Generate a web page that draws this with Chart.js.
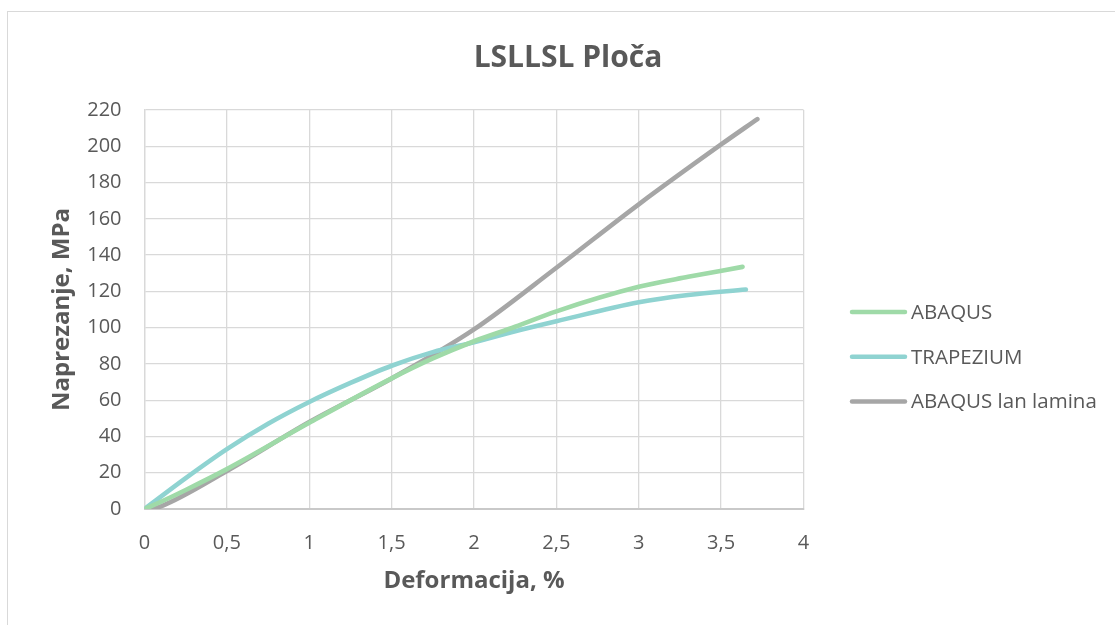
<!DOCTYPE html>
<html>
<head>
<meta charset="utf-8">
<script src="https://cdn.jsdelivr.net/npm/chart.js@4/dist/chart.umd.min.js"></script>
<style>
  html, body { margin: 0; padding: 0; background: #fff; }
  #wrap { position: relative; width: 1115px; height: 625px; overflow: hidden; }
  #frame { position: absolute; left: 7px; top: 11px; width: 1200px; height: 700px; border: 1px solid #d9d9d9; box-sizing: border-box; }
  canvas { position: absolute; left: 0; top: 0; }
</style>
</head>
<body>
<div id="wrap">
  <div id="frame"></div>
  <canvas id="chart" width="1115" height="625"></canvas>
</div>
<script>
// deformacija (%) i naprezanje (MPa) za svaku krivulju
const abaqusX = [0, 0.1, 0.25, 0.5, 1, 1.5, 1.75, 2, 2.25, 2.5, 3, 3.3, 3.63];
const abaqusY = [0, 4, 10.5, 22, 47.5, 72, 83, 92.5, 100.5, 109, 122.5, 128, 133.5];

const trapezX = [0, 0.25, 0.5, 0.75, 1, 1.25, 1.5, 1.75, 2, 2.25, 2.5, 3, 3.3, 3.65];
const trapezY = [0, 17, 33, 47, 59, 69.5, 79, 86.5, 92, 98, 103.5, 114, 118, 121];

const laminaX = [0, 0.05, 0.1, 0.5, 1, 1.5, 2, 2.5, 3, 3.5, 3.72];
const laminaY = [0, 0.3, 1.5, 21, 48, 72, 99, 133, 168, 201, 215];

const seriesNames = ['ABAQUS', 'TRAPEZIUM', 'ABAQUS lan lamina'];
const seriesColors = ['#9fdaa8', '#8fd3d1', '#a6a6a6'];

const xTicks = [0, 0.5, 1, 1.5, 2, 2.5, 3, 3.5, 4];
const yTicks = [0, 20, 40, 60, 80, 100, 120, 140, 160, 180, 200, 220];

const chartTitle = 'LSLLSL Ploča';

const FONT = "'Open Sans', 'DejaVu Sans', sans-serif";
const TEXT = '#595959';

function toPoints(xs, ys) {
  return xs.map((x, i) => ({ x: x, y: ys[i] }));
}

function commaNum(v) {
  return String(v).replace('.', ',');
}

// naslov centriran na cijeloj površini grafikona (ne samo na osima)
const frameTitle = {
  id: 'frameTitle',
  afterDraw(chart, args, opts) {
    const ctx = chart.ctx;
    ctx.save();
    ctx.font = 'bold 30px ' + FONT;
    ctx.fillStyle = TEXT;
    ctx.textAlign = 'center';
    ctx.textBaseline = 'middle';
    ctx.fillText(opts.text, opts.x, opts.y);
    ctx.restore();
  }
};

// legenda desno od grafa, crtica + naziv
const sideLegend = {
  id: 'sideLegend',
  afterDraw(chart, args, opts) {
    const ctx = chart.ctx;
    ctx.save();
    ctx.font = '20.5px ' + FONT;
    ctx.textBaseline = 'middle';
    ctx.textAlign = 'left';
    chart.data.datasets.forEach((ds, i) => {
      const y = opts.top + i * opts.spacing;
      ctx.strokeStyle = ds.borderColor;
      ctx.lineWidth = 4.5;
      ctx.lineCap = 'round';
      ctx.beginPath();
      ctx.moveTo(opts.left, y);
      ctx.lineTo(opts.left + opts.lineLen, y);
      ctx.stroke();
      ctx.fillStyle = TEXT;
      ctx.fillText(ds.label, opts.left + opts.lineLen + 6, y + 1);
    });
    ctx.restore();
  }
};

const datasets = [
  toPoints(abaqusX, abaqusY),
  toPoints(trapezX, trapezY),
  toPoints(laminaX, laminaY)
].map((pts, i) => ({
  label: seriesNames[i],
  data: pts,
  borderColor: seriesColors[i],
  backgroundColor: seriesColors[i],
  borderWidth: 4.6,
  borderCapStyle: 'round',
  pointRadius: 0,
  cubicInterpolationMode: 'monotone',
  fill: false
}));

new Chart(document.getElementById('chart'), {
  type: 'line',
  data: { datasets: datasets },
  plugins: [frameTitle, sideLegend],
  options: {
    responsive: false,
    animation: false,
    layout: { padding: { left: 44.5, right: 311.5, top: 110, bottom: 20 } },
    plugins: {
      legend: { display: false },
      tooltip: { enabled: false },
      title: { display: false },
      frameTitle: { text: chartTitle, x: 568, y: 58 },
      sideLegend: { left: 852, top: 312, spacing: 44.7, lineLen: 53 }
    },
    scales: {
      x: {
        type: 'linear',
        min: 0,
        max: 4,
        afterFit(scale) { scale.height = 96; },
        afterBuildTicks(scale) { scale.ticks = xTicks.map(v => ({ value: v })); },
        grid: { color: '#d9d9d9', lineWidth: 1.3, drawTicks: false },
        border: { color: '#c9c9c9', width: 2 },
        ticks: {
          padding: 22,
          color: TEXT,
          font: { family: FONT, size: 20 },
          callback: v => commaNum(v)
        },
        title: {
          display: true,
          text: 'Deformacija, %',
          color: TEXT,
          font: { family: FONT, size: 24, weight: 'bold' },
          padding: { top: 0, bottom: 9.6 }
        }
      },
      y: {
        min: 0,
        max: 220,
        afterFit(scale) { scale.width = 100; },
        afterBuildTicks(scale) { scale.ticks = yTicks.map(v => ({ value: v })); },
        grid: { color: '#d9d9d9', lineWidth: 1.3, drawTicks: false },
        border: { color: '#d9d9d9', width: 1.3 },
        ticks: {
          padding: 23,
          color: TEXT,
          font: { family: FONT, size: 20 },
          callback: v => commaNum(v)
        },
        title: {
          display: true,
          text: 'Naprezanje, MPa',
          color: TEXT,
          font: { family: FONT, size: 24, weight: 'bold' },
          padding: { top: 3, bottom: 0 }
        }
      }
    }
  }
});
</script>
</body>
</html>
